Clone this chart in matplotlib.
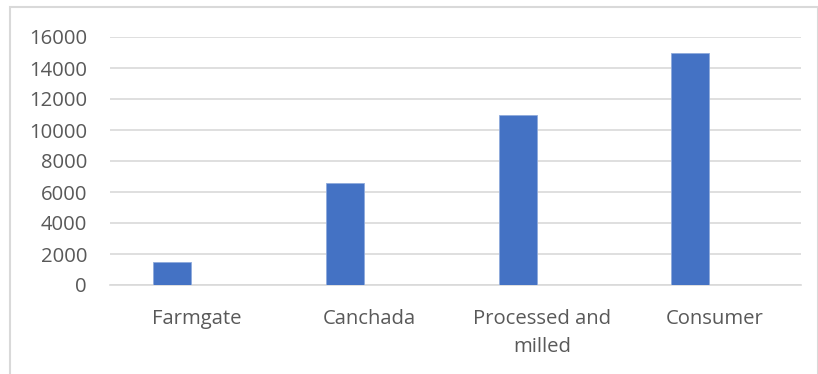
import matplotlib
matplotlib.use("Agg")
import matplotlib.pyplot as plt
from matplotlib.patches import Rectangle
import numpy as np

categories = ["Farmgate", "Canchada", "Processed and\nmilled", "Consumer"]
values = [1500, 6600, 11000, 15000]
yticks = [0, 2000, 4000, 6000, 8000, 10000, 12000, 14000, 16000]

W, H = 818, 374
fig = plt.figure(figsize=(W / 100, H / 100), dpi=100)
plt.rcParams['font.family'] = ['Open Sans', 'DejaVu Sans']

left, right, top, bottom = 110, 801, 37, 285
ax = fig.add_axes([left / W, 1 - bottom / H, (right - left) / W, (bottom - top) / H])

x = np.arange(len(categories))
ax.bar(x - 0.141, values, width=0.22, color="#4472C4", edgecolor="#8FAADC", linewidth=0.6, zorder=3)

ax.set_xlim(-0.5, len(categories) - 0.5)
ax.set_ylim(0, 16000)
ax.set_yticks(yticks)
ax.set_yticklabels([str(v) for v in yticks])
ax.set_xticks(x)
ax.set_xticklabels(categories, linespacing=1.55)

ax.yaxis.grid(True, color="#D9D9D9", linewidth=1.2, zorder=0)
ax.set_axisbelow(True)
for s in ["top", "right", "left"]:
    ax.spines[s].set_visible(False)
ax.spines["bottom"].set_color("#D9D9D9")
ax.spines["bottom"].set_linewidth(1.2)
ax.tick_params(axis="both", length=0, labelsize=14.6, colors="#595959")
ax.tick_params(axis="y", pad=16.5)
ax.tick_params(axis="x", pad=17)

fig.patches.append(Rectangle((10 / W, -0.1), (W - 10) / W, 1 - 7 / H + 0.1,
                             transform=fig.transFigure, fill=False,
                             edgecolor="#D9D9D9", linewidth=1.5))

fig.savefig("out.png", dpi=100)
